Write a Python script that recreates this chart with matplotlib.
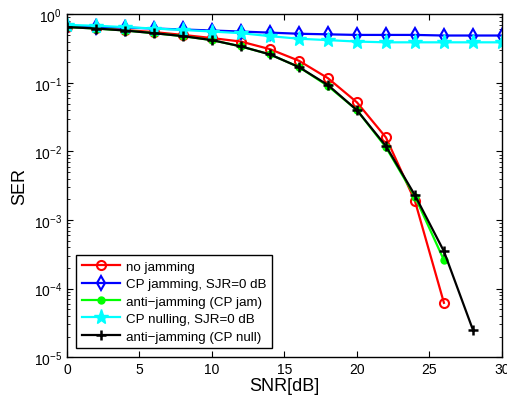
import matplotlib
matplotlib.use('Agg')
import matplotlib.pyplot as plt
from matplotlib.ticker import LogLocator, NullFormatter

plt.rcParams['font.family'] = ['Liberation Sans', 'DejaVu Sans']

# SNR grid (dB)
snr = [0, 2, 4, 6, 8, 10, 12, 14, 16, 18, 20, 22, 24, 26, 28, 30]

# SER curves
ser_no_jam = [0.66, 0.63, 0.59, 0.55, 0.50, 0.45, 0.40, 0.31, 0.21, 0.117, 0.052, 0.016, 1.9e-3, 6.2e-5]
ser_cp_jam = [0.68, 0.66, 0.64, 0.62, 0.60, 0.58, 0.56, 0.54, 0.52, 0.51, 0.50, 0.50, 0.50, 0.49, 0.49, 0.49]
ser_anti_jam = [0.65, 0.62, 0.58, 0.53, 0.48, 0.42, 0.34, 0.26, 0.17, 0.090, 0.040, 0.0115, 2.2e-3, 2.6e-4]
ser_cp_null = [0.70, 0.68, 0.65, 0.62, 0.59, 0.56, 0.53, 0.48, 0.44, 0.42, 0.40, 0.39, 0.39, 0.39, 0.39, 0.39]
ser_anti_null = [0.65, 0.62, 0.58, 0.53, 0.48, 0.42, 0.34, 0.26, 0.17, 0.093, 0.040, 0.012, 2.3e-3, 3.5e-4, 2.5e-5]

fig = plt.figure(figsize=(5.07, 4.02), dpi=100)
ax = fig.add_axes([0.132, 0.109, 0.858, 0.853])

lw = 1.6
ax.semilogy(snr[:len(ser_no_jam)], ser_no_jam, color='#ff0000', lw=lw, marker='o',
            ms=6.5, mfc='none', mew=1.5, label='no jamming')
ax.semilogy(snr, ser_cp_jam, color='#0000ff', lw=lw, marker='d',
            ms=7, mfc='none', mew=1.5, label='CP jamming, SJR=0 dB')
ax.semilogy(snr[:len(ser_anti_jam)], ser_anti_jam, color='#00ff00', lw=lw, marker='.',
            ms=10, label='anti\u2212jamming (CP jam)')
ax.semilogy(snr, ser_cp_null, color='#00ffff', lw=lw, marker='*',
            ms=11, label='CP nulling, SJR=0 dB')
ax.semilogy(snr[:len(ser_anti_null)], ser_anti_null, color='#000000', lw=lw, marker='+',
            ms=7.5, mew=1.8, label='anti\u2212jamming (CP null)')

ax.set_xlim(0, 30)
ax.set_ylim(1e-5, 1)
ax.set_xticks([0, 5, 10, 15, 20, 25, 30])
ax.yaxis.set_minor_locator(LogLocator(base=10, subs=range(2, 10)))
ax.yaxis.set_minor_formatter(NullFormatter())
ax.tick_params(which='both', direction='in', top=True, right=True, labelsize=10)
ax.tick_params(which='major', length=4)
ax.tick_params(which='minor', length=2)
for s in ax.spines.values():
    s.set_linewidth(1.0)

ax.set_xlabel('SNR[dB]', fontsize=13, labelpad=1)
ax.set_ylabel('SER', fontsize=13, labelpad=4)

leg = ax.legend(loc='lower left', fontsize=9.6, fancybox=False, framealpha=1,
                edgecolor='black', handlelength=2.9, borderaxespad=0.7,
                labelspacing=0.38, borderpad=0.4, handletextpad=0.45)
leg.get_frame().set_linewidth(1.0)

fig.savefig('out.png', dpi=100)
